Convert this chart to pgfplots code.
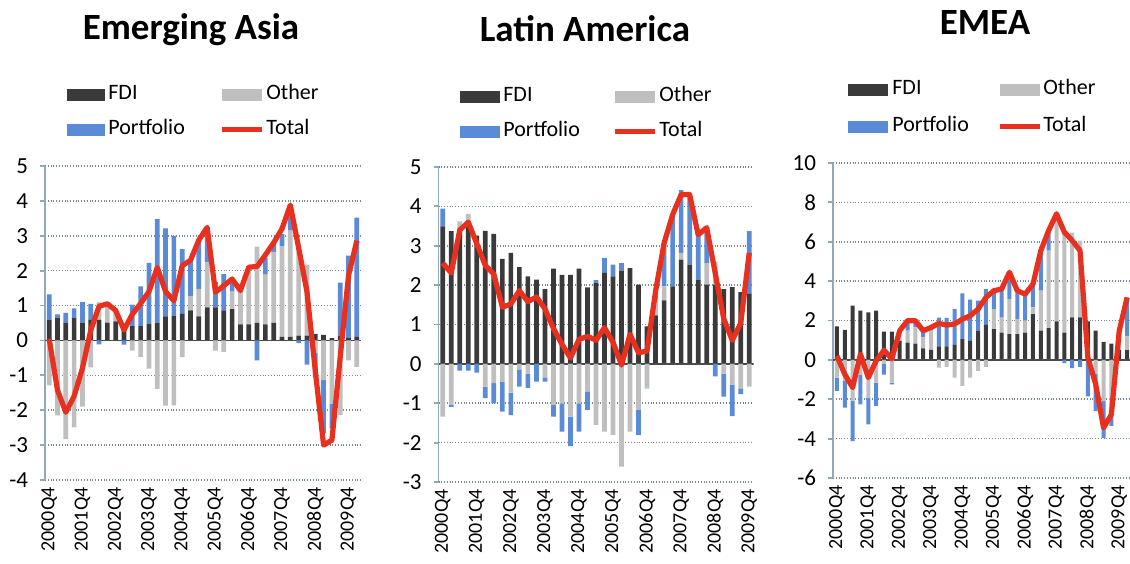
\documentclass[border=0pt]{standalone}
\usepackage{pgfplots}
\pgfplotsset{compat=1.18}
\usepackage{pgfplotstable}
\usepackage{fontspec}
\setmainfont{Carlito}
\definecolor{fdi}{HTML}{3A3A3A}
\definecolor{oth}{HTML}{BFBFBF}
\definecolor{por}{HTML}{5B8BD6}
\definecolor{tot}{HTML}{E8301E}
\definecolor{gridc}{HTML}{7A8894}
\definecolor{axc}{HTML}{8FA8BC}
\definecolor{zeroc}{HTML}{4A4A4A}

% Emerging Asia: FDI, Other, Portfolio, Total
\pgfplotstableread{
x f o p t
0 0.58 -1.29 0.74 0.05
1 0.64 -2.15 0.11 -1.42
2 0.51 -2.83 0.28 -2.06
3 0.64 -2.49 0.28 -1.60
4 0.51 -1.90 0.59 -0.80
5 0.59 -0.77 0.46 0.29
6 0.59 0.50 -0.11 0.98
7 0.51 0.52 0.00 1.05
8 0.55 0.31 0.00 0.86
9 0.41 0.00 -0.12 0.30
10 0.41 -0.29 0.62 0.75
11 0.41 -0.48 1.14 1.06
12 0.48 -0.81 1.74 1.40
13 0.51 -1.39 2.97 2.09
14 0.69 -1.87 2.52 1.40
15 0.71 -1.86 2.29 1.14
16 0.76 -0.48 1.86 2.14
17 0.86 0.41 1.03 2.30
18 0.69 0.79 1.40 2.88
19 0.95 1.29 1.00 3.24
20 0.95 -0.29 0.72 1.38
21 0.86 -0.33 1.04 1.57
22 0.90 0.50 0.36 1.76
23 0.46 0.97 0.00 1.43
24 0.46 1.64 0.00 2.10
25 0.50 2.19 -0.57 2.12
26 0.46 1.43 0.48 2.45
27 0.50 2.04 0.25 2.80
28 0.10 2.60 0.35 3.20
29 0.10 3.05 0.60 3.88
30 0.14 2.60 -0.08 2.66
31 0.14 2.03 -0.69 1.40
32 0.19 -0.35 -0.70 -0.86
33 0.16 -1.14 -1.52 -3.00
34 0.07 -1.81 -0.71 -2.86
35 0.14 -2.14 1.52 -0.48
36 0.07 -0.57 2.36 1.86
37 0.10 -0.76 3.42 2.86
}\dataA

% Latin America
\pgfplotstableread{
x f o p t
0 3.49 -1.34 0.45 2.56
1 3.37 -1.04 -0.05 2.31
2 3.43 0.19 -0.17 3.40
3 3.55 0.26 -0.17 3.60
4 3.26 0.00 -0.22 3.05
5 3.38 -0.58 -0.29 2.50
6 3.30 -0.49 -0.51 2.28
7 2.67 -0.45 -0.76 1.44
8 2.82 -0.73 -0.57 1.52
9 2.46 -0.14 -0.44 1.86
10 2.22 -0.25 -0.36 1.58
11 2.14 0.00 -0.45 1.70
12 1.90 -0.34 -0.11 1.40
13 2.42 -1.04 -0.30 0.90
14 2.26 -1.00 -0.72 0.50
15 2.26 -1.34 -0.75 0.15
16 2.42 -1.00 -0.72 0.62
17 1.94 -0.70 -0.47 0.70
18 2.05 -1.55 0.08 0.60
19 2.31 -1.72 0.38 0.92
20 2.22 -1.80 0.30 0.55
21 2.37 -2.61 0.19 -0.03
22 2.43 -1.72 0.00 0.75
23 2.01 -1.17 -0.64 0.28
24 0.95 -0.60 -0.02 0.33
25 1.23 0.40 0.25 1.85
26 1.61 0.36 1.10 3.07
27 1.97 0.00 1.82 3.79
28 2.65 0.17 1.59 4.30
29 2.52 0.00 1.78 4.30
30 2.14 0.00 1.14 3.28
31 2.01 0.55 0.90 3.46
32 2.01 0.59 -0.32 2.31
33 1.90 -0.25 -0.58 1.15
34 1.95 -0.53 -0.80 0.60
35 1.82 -0.62 -0.15 1.03
36 1.78 -0.58 1.59 2.82
}\dataB

% EMEA
\pgfplotstableread{
x f o p t
0 1.70 -0.90 -0.68 0.20
1 1.53 -1.07 -1.36 -0.73
2 2.75 -2.09 -2.04 -1.41
3 2.50 -0.76 -1.50 0.29
4 2.41 -1.92 -1.36 -0.90
5 2.50 -1.15 -1.19 -0.05
6 1.43 -0.20 -0.55 0.49
7 1.43 -1.15 -0.10 0.05
8 0.97 0.40 0.13 1.48
9 0.88 0.60 0.42 1.99
10 0.83 0.82 0.34 1.99
11 0.58 0.56 0.36 1.48
12 0.51 0.97 0.17 1.65
13 0.68 -0.39 1.47 1.85
14 0.68 -0.36 1.45 1.77
15 0.76 -0.90 1.82 1.82
16 1.05 -1.32 2.33 2.07
17 0.97 -0.90 2.09 2.24
18 1.48 -0.56 1.53 2.58
19 1.78 -0.36 1.82 3.17
20 1.56 1.02 0.93 3.51
21 1.39 0.76 1.45 3.60
22 1.31 1.78 1.36 4.45
23 1.31 0.76 1.44 3.51
24 1.39 0.60 1.35 3.34
25 2.33 0.34 1.18 3.85
26 1.48 2.04 2.04 5.55
27 1.61 3.94 1.00 6.57
28 1.95 5.47 0.00 7.42
29 1.39 5.10 -0.17 6.49
30 2.16 4.30 -0.42 6.06
31 2.16 3.90 -0.36 5.55
32 1.95 -0.10 -1.75 0.12
33 1.48 -0.73 -1.87 -1.24
34 0.92 -2.09 -1.87 -3.45
35 0.83 -2.60 -0.75 -2.77
36 0.49 0.73 0.26 1.48
37 0.49 0.73 1.95 3.17
}\dataC

\pgfplotsset{
  panel/.style={scale only axis, anchor=south west, xmin=-0.5},
  frame/.style={panel,
    axis y line*=left, axis x line*=bottom,
    x axis line style={draw=none},
    y axis line style={axc, line width=0.9bp},
    ymajorgrids, major grid style={gridc, densely dotted, line width=0.8bp},
    xtick={0,4,...,36},
    xticklabels={2000Q4,2001Q4,2002Q4,2003Q4,2004Q4,2005Q4,2006Q4,2007Q4,2008Q4,2009Q4},
    xticklabel style={rotate=90, anchor=east, font=\fontsize{10bp}{11bp}\selectfont, inner sep=1bp},
    yticklabel style={font=\fontsize{11.5bp}{12bp}\selectfont, xshift=-2.5bp},
    /pgf/number format/assume math mode=true,
    xtick style={draw=none},
    ytick style={axc, line width=0.9bp},
    tick align=outside, major tick length=2.5bp,
    ybar stacked},
  stk/.style={panel, hide axis, ybar stacked},
  lin/.style={panel, hide axis},
  pos/.style={draw=none, fill=#1},
}

\newcommand\bars[3]{% table, max (positive parts) or min (negative parts)
  \addplot[pos=fdi] table[x=x, y expr={#2(\thisrow{f},0)}] {#1};
  \addplot[pos=oth] table[x=x, y expr={#2(\thisrow{o},0)}] {#1};
  \addplot[pos=por] table[x=x, y expr={#2(\thisrow{p},0)}] {#1};
}

\begin{document}
\begin{tikzpicture}
% ---------- Panel 1: Emerging Asia ----------
\begin{axis}[frame, at={(22.5bp,42bp)}, width=158bp, height=157bp,
  xmax=37.5, ymin=-4, ymax=5, ytick={-4,...,5}, bar width=2.35bp]
  \draw[zeroc, line width=0.9bp] (axis cs:-0.5,0) -- (axis cs:37.5,0);
  \bars{\dataA}{max}{}
\end{axis}
\begin{axis}[stk, at={(22.5bp,42bp)}, width=158bp, height=157bp,
  xmax=37.5, ymin=-4, ymax=5, bar width=2.35bp]
  \bars{\dataA}{min}{}
\end{axis}
\begin{axis}[lin, at={(22.5bp,42bp)}, width=158bp, height=157bp,
  xmax=37.5, ymin=-4, ymax=5]
  \addplot[tot, line width=2.6bp, line join=round, no markers] table[x=x, y=t] {\dataA};
\end{axis}

% ---------- Panel 2: Latin America ----------
\begin{axis}[frame, at={(219.25bp,41bp)}, width=157.5bp, height=157.5bp,
  xmax=36.5, ymin=-3, ymax=5, ytick={-3,...,5}, bar width=2.35bp]
  \draw[zeroc, line width=0.9bp] (axis cs:-0.5,0) -- (axis cs:36.5,0);
  \bars{\dataB}{max}{}
\end{axis}
\begin{axis}[stk, at={(219.25bp,41bp)}, width=157.5bp, height=157.5bp,
  xmax=36.5, ymin=-3, ymax=5, bar width=2.35bp]
  \bars{\dataB}{min}{}
\end{axis}
\begin{axis}[lin, at={(219.25bp,41bp)}, width=157.5bp, height=157.5bp,
  xmax=36.5, ymin=-3, ymax=5]
  \addplot[tot, line width=2.6bp, line join=round, no markers] table[x=x, y=t] {\dataB};
\end{axis}

% ---------- Panel 3: EMEA ----------
\begin{axis}[frame, at={(416.5bp,43bp)}, width=149bp, height=157.5bp,
  xmax=37.5, ymin=-6, ymax=10, ytick={-6,-4,...,10}, bar width=2bp]
  \draw[zeroc, line width=0.9bp] (axis cs:-0.5,0) -- (axis cs:37.5,0);
  \bars{\dataC}{max}{}
\end{axis}
\begin{axis}[stk, at={(416.5bp,43bp)}, width=149bp, height=157.5bp,
  xmax=37.5, ymin=-6, ymax=10, bar width=2bp]
  \bars{\dataC}{min}{}
\end{axis}
\begin{axis}[lin, at={(416.5bp,43bp)}, width=149bp, height=157.5bp,
  xmax=37.5, ymin=-6, ymax=10]
  \addplot[tot, line width=2.6bp, line join=round, no markers] table[x=x, y=t] {\dataC};
\end{axis}

% ---------- titles and legends (pixel coordinates of the 1130x564 image) ----------
\begin{scope}[x=0.5bp, y=-0.5bp, yshift=282bp,
  lt/.style={anchor=mid west, inner sep=0pt, font=\fontsize{11bp}{12bp}\selectfont},
  tt/.style={anchor=base, inner sep=0pt, font=\fontsize{18.5bp}{22bp}\selectfont\bfseries}]
  \node[tt] at (191,40) {Emerging Asia};
  \node[tt] at (585,42) {Latin America};
  \node[tt] at (985,35) {EMEA};
  % panel 1
  \fill[fdi] (67,89) rectangle (105,101);  \node[lt] at (108,95) {FDI};
  \fill[oth] (222,89) rectangle (262,101); \node[lt] at (266,95) {Other};
  \fill[por] (67,124) rectangle (105,136); \node[lt] at (108,130) {Portfolio};
  \draw[tot, line width=2.5bp] (222,130) -- (262,130); \node[lt] at (266,130) {Total};
  % panel 2
  \fill[fdi] (460,91) rectangle (500,103);  \node[lt] at (503,97) {FDI};
  \fill[oth] (615,91) rectangle (655,103);  \node[lt] at (659,97) {Other};
  \fill[por] (460,126) rectangle (500,138); \node[lt] at (503,132) {Portfolio};
  \draw[tot, line width=2.5bp] (615,132) -- (655,132); \node[lt] at (659,132) {Total};
  % panel 3
  \fill[fdi] (848,84) rectangle (888,96);   \node[lt] at (892,90) {FDI};
  \fill[oth] (1000,84) rectangle (1040,96); \node[lt] at (1043,90) {Other};
  \fill[por] (848,121) rectangle (888,133); \node[lt] at (892,127) {Portfolio};
  \draw[tot, line width=2.5bp] (1000,127) -- (1040,127); \node[lt] at (1043,127) {Total};
\end{scope}

\pgfresetboundingbox
\path[use as bounding box] (0,0) rectangle (565bp,282bp);
\end{tikzpicture}
\end{document}
